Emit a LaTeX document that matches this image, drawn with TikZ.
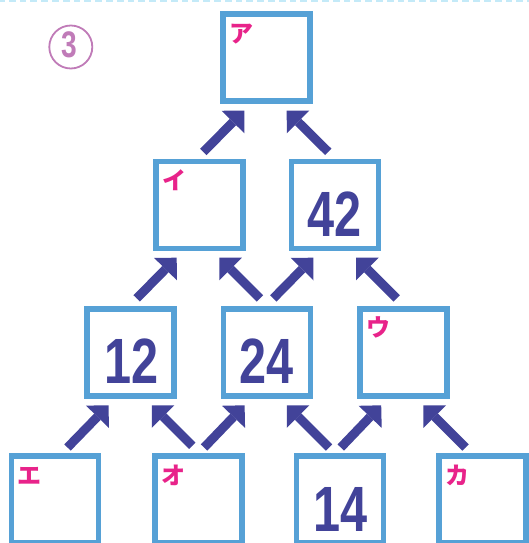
\documentclass[tikz,border=0pt]{standalone}
\usepackage{fontspec}
\setmainfont{Liberation Sans}
\newfontfamily\jpfont{Noto Sans CJK JP}
\usetikzlibrary{arrows.meta,calc}
\definecolor{boxblue}{RGB}{86,161,214}
\definecolor{arrowblue}{RGB}{66,67,153}
\definecolor{kpink}{RGB}{232,35,138}
\definecolor{cpurple}{RGB}{192,123,184}
\definecolor{dashblue}{RGB}{196,234,248}
\begin{document}
\begin{tikzpicture}[x=1pt,y=-1pt,
  box/.style={draw=boxblue, line width=5.5pt, minimum size=87pt, inner sep=0pt, outer sep=0pt, fill=white},
  arr/.style={draw=arrowblue, fill=arrowblue, line width=9pt, line cap=butt, line join=miter,
    -{Triangle[length=16pt,width=32pt,line width=0pt]}},
  kana/.style={text=kpink, font=\jpfont\bfseries\fontsize{24}{24}\selectfont, inner sep=0pt, anchor=base west},
  num/.style={text=arrowblue, font=\bfseries\fontsize{64}{64}\selectfont, inner sep=0pt}
]
\useasboundingbox (0,0) rectangle (529,543);
\fill[white] (0,0) rectangle (529,543);
\draw[dashblue, line width=2.6pt, dash pattern=on 6.8pt off 4pt] (-2,0.8) -- (531,0.8);

% circled 3
\node[draw=cpurple, line width=1.8pt, circle, minimum size=43pt, inner sep=0pt] (circ) at (70.8,47) {};
\node[text=cpurple, font=\bfseries\fontsize{37}{37}\selectfont, inner sep=0pt] (three) at ($(circ)+(-1.2,-2)$) {\scalebox{0.76}[1]{3}};

% boxes
\node[box] (A)  at (266.5,57.7) {};
\node[box] (B1) at (199.5,205) {};
\node[box] (B2) at (335,205) {};
\node[box] (C1) at (130.7,352.3) {};
\node[box] (C2) at (267,352.3) {};
\node[box] (C3) at (403.5,352.3) {};
\node[box] (D1) at (55,499.7) {};
\node[box] (D2) at (198.4,499.7) {};
\node[box] (D3) at (340.2,499.7) {};
\node[box] (D4) at (482.6,499.7) {};

% kana labels
\node[kana] (lA)  at ($(A.north west)+(6,27.8)$) {ア};
\node[kana] (lB1) at ($(B1.north west)+(6,27.8)$) {イ};
\node[kana] (lC3) at ($(C3.north west)+(6,27.8)$) {ウ};
\node[kana] (lD1) at ($(D1.north west)+(6,27.8)$) {エ};
\node[kana] (lD2) at ($(D2.north west)+(6,27.8)$) {オ};
\node[kana] (lD4) at ($(D4.north west)+(6,27.8)$) {カ};

% numbers
\node[num] (nB2) at ($(B2)+(0,9)$) {\scalebox{0.76}[1]{42}};
\node[num] (nC1) at ($(C1)+(1,9)$) {\scalebox{0.76}[1]{12}};
\node[num] (nC2) at ($(C2)+(0,9)$) {\scalebox{0.76}[1]{24}};
\node[num] (nD3) at ($(D3)+(0.5,9.5)$) {\scalebox{0.76}[1]{14}};

% arrows row 2 -> row 1
\draw[arr] ($(B1)+(3.8,-53.1)$) -- ($(A)+(-22.2,53)$);
\draw[arr] ($(B2)+(-6.7,-53.1)$) -- ($(A)+(20.2,53)$);
% row 3 -> row 2
\draw[arr] ($(C1)+(6,-53.9)$) -- ($(B1)+(-22.8,52.7)$);
\draw[arr] ($(C2)+(-7,-53.9)$) -- ($(B1)+(19.8,52.7)$);
\draw[arr] ($(C2)+(6.3,-53.9)$) -- ($(B2)+(-21.7,52.7)$);
\draw[arr] ($(C3)+(-6.8,-53.9)$) -- ($(B2)+(21,52.7)$);
% row 4 -> row 3
\draw[arr] ($(D1)+(12.5,-52.2)$) -- ($(C1)+(-22.1,53)$);
\draw[arr] ($(D2)+(-6.1,-53.9)$) -- ($(C1)+(21.1,53)$);
\draw[arr] ($(D2)+(5.7,-52.2)$) -- ($(C2)+(-22.4,53)$);
\draw[arr] ($(D3)+(-11.2,-52.2)$) -- ($(C2)+(19.8,53)$);
\draw[arr] ($(D3)+(0.6,-52.2)$) -- ($(C3)+(-22.3,53)$);
\draw[arr] ($(D4)+(-17,-52.2)$) -- ($(C3)+(19.9,53)$);
\end{tikzpicture}
\end{document}
